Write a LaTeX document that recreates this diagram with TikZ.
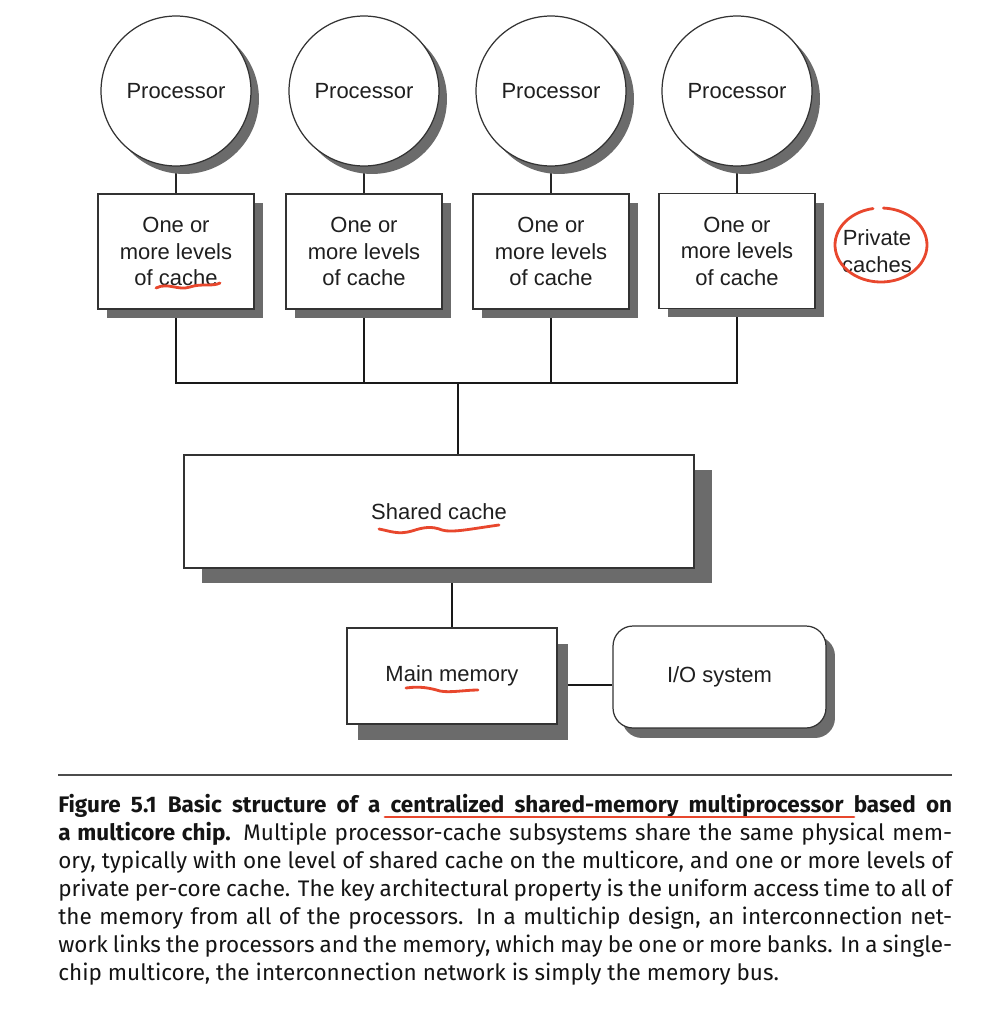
\documentclass[tikz,border=0pt]{standalone}
\usepackage{fontspec}
\setmainfont{Liberation Sans}
\newfontfamily\capfont{Fira Sans}
\usetikzlibrary{shadows,backgrounds}
\definecolor{shade}{HTML}{6B6B6B}
\definecolor{pen}{HTML}{E8472D}
\newcommand{\capline}[1]{\makebox[17.88cm][s]{#1}}

\begin{document}
\begin{tikzpicture}[x=0.02cm,y=-0.02cm,
  lbl/.style={font=\fontsize{12.5}{15.1}\selectfont,text=black!88,align=center},
  unit/.style={lbl,draw=black!80,line width=0.7pt,fill=white,inner sep=0pt},
  proc/.style={unit,circle,minimum size=3cm,
    drop shadow={shadow xshift=0.16cm,shadow yshift=-0.16cm,fill=shade,opacity=1}},
  cache/.style={unit,rectangle,minimum width=3.12cm,minimum height=2.3cm,
    drop shadow={shadow xshift=0.18cm,shadow yshift=-0.18cm,fill=shade,opacity=1}},
  wire/.style={black!85,line width=0.7pt},
  bus/.style={black!90,line width=1.6pt},
  ink/.style={pen,line width=1.6pt,line cap=round,line join=round},
  figcap/.style={font=\capfont\fontsize{12.8}{15.93}\selectfont,text=black!92,align=left,inner sep=0pt}]
\useasboundingbox (0,0) rectangle (1001,1024);

\node[proc] (p1) at (176,91) {Processor};
\node[proc] (p2) at (364,91) {Processor};
\node[proc] (p3) at (551,91) {Processor};
\node[proc] (p4) at (737,91) {Processor};

\node[cache] (c1) at (176,251.5) {One or\\more levels\\of cache};
\node[cache] (c2) at (364,251.5) {One or\\more levels\\of cache};
\node[cache] (c3) at (551,251.5) {One or\\more levels\\of cache};
\node[cache] (c4) at (737,251) {One or\\more levels\\of cache};

\node[lbl] (pc) at (877,251) {Private\\caches};

\node[unit,rectangle,minimum width=10.2cm,minimum height=2.26cm,
  drop shadow={shadow xshift=0.36cm,shadow yshift=-0.3cm,fill=shade,opacity=1}] (sc) at (439,511.5) {Shared cache};
\node[unit,rectangle,minimum width=4.2cm,minimum height=1.92cm,
  drop shadow={shadow xshift=0.22cm,shadow yshift=-0.32cm,fill=shade,opacity=1}] (mm) at (452,676) {Main memory};
\node[unit,rectangle,rounded corners=0.4cm,minimum width=4.26cm,minimum height=2.04cm,
  drop shadow={shadow xshift=0.18cm,shadow yshift=-0.2cm,fill=shade,opacity=1}] (io) at (719.5,677) {I/O system};

\coordinate (hub) at (458,383);

\begin{scope}[on background layer]
\draw[wire] (p1) -- (c1);
\draw[wire] (p2) -- (c2);
\draw[wire] (p3) -- (c3);
\draw[wire] (p4) -- (c4);

\draw[bus] (c1.south) |- (c4.south |- hub) -- (c4.south);
\draw[bus] (c2.south) -- (c2.south |- hub);
\draw[bus] (c3.south) -- (c3.south |- hub);
\draw[bus] (hub) -- (hub |- sc.north);
\draw[bus] (sc.south -| mm.north) -- (mm.north);
\draw[bus] ([yshift=-0.18cm]mm.east) -- ([yshift=-0.18cm]mm.east -| io.west);
\end{scope}

% pen marks
\draw[ink] (156,288) .. controls (168,282) and (178,291) .. (190,287) .. controls (202,283) and (212,287) .. (220,283);
\draw[ink] (379,529) .. controls (390,531) and (398,535) .. (412,531) .. controls (424,527) and (432,526) .. (442,530) .. controls (452,533) and (470,529) .. (499,525);
\draw[ink] (406,688) .. controls (420,686) and (430,688) .. (440,691) .. controls (450,693) and (465,690) .. (478,690);
\draw[ink] plot[smooth,domain=87:-260,samples=60] ({881+46*cos(\x)},{245-37*sin(\x)});

\draw[black!70,line width=0.6pt] (58,775) -- (952,775);
\node[figcap,anchor=north west] (fig) at (58,794) {\frenchspacing%
\capline{\textbf{Figure 5.1\hspace{0.5em}Basic structure of a centralized shared-memory multiprocessor based on}}\\%
\capline{\textbf{a multicore chip.} Multiple processor-cache subsystems share the same physical mem-}\\%
\capline{ory, typically with one level of shared cache on the multicore, and one or more levels of}\\%
\capline{private per-core cache. The key architectural property is the uniform access time to all of}\\%
\capline{the memory from all of the processors. In a multichip design, an interconnection net-}\\%
\capline{work links the processors and the memory, which may be one or more banks. In a single-}\\%
chip multicore, the interconnection network is simply the memory bus.};
\draw[ink] (385,817) -- (854,817);

\end{tikzpicture}
\end{document}
